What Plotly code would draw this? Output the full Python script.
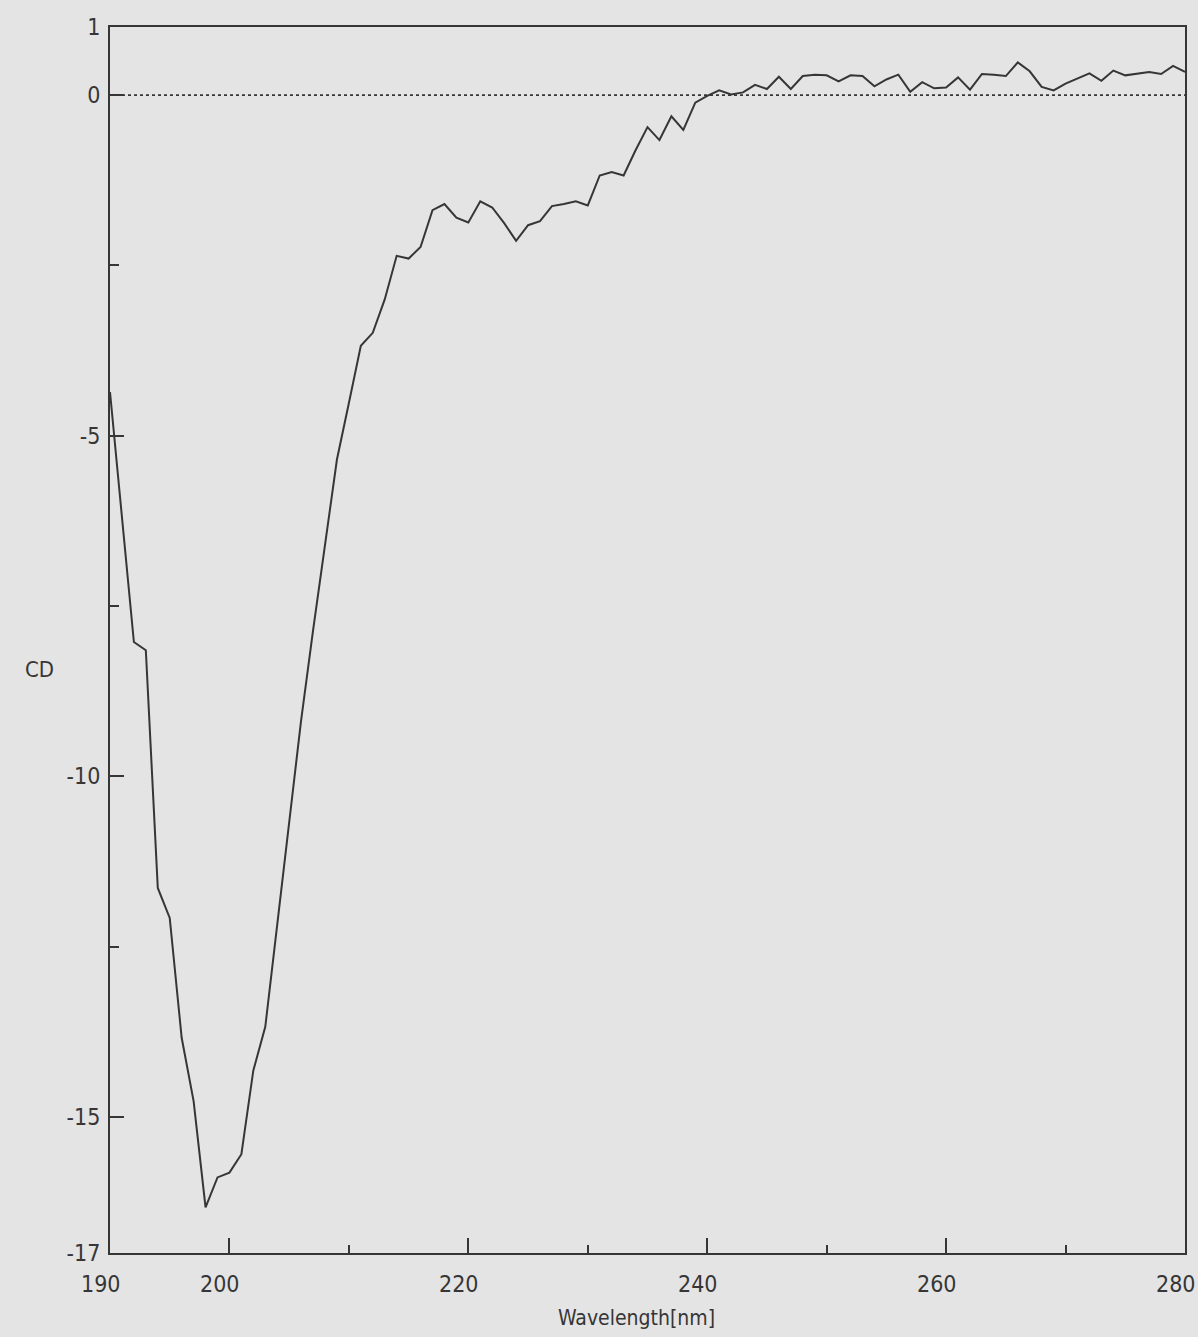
import plotly.graph_objects as go

wavelength = list(range(190, 281))
cd = [-4.36, -6.19, -8.03, -8.15, -11.64, -12.08, -13.84, -14.77, -16.33, -15.89,
      -15.82, -15.55, -14.32, -13.68, -12.18, -10.68, -9.18, -7.86, -6.59, -5.35,
      -4.52, -3.68, -3.49, -3.00, -2.36, -2.40, -2.23, -1.69, -1.60, -1.80,
      -1.87, -1.56, -1.65, -1.88, -2.14, -1.91, -1.85, -1.63, -1.60, -1.56,
      -1.62, -1.18, -1.13, -1.18, -0.81, -0.47, -0.66, -0.31, -0.51, -0.11,
      -0.01, 0.07, 0.01, 0.04, 0.15, 0.09, 0.27, 0.09, 0.28, 0.30,
      0.29, 0.20, 0.29, 0.28, 0.13, 0.23, 0.30, 0.05, 0.19, 0.10,
      0.11, 0.26, 0.08, 0.31, 0.30, 0.28, 0.48, 0.35, 0.12, 0.07,
      0.17, 0.24, 0.32, 0.21, 0.36, 0.29, 0.31, 0.34, 0.31, 0.43,
      0.34]

x_ticks = [190, 200, 220, 240, 260, 280]
x_minor = [210, 230, 250, 270]
y_ticks = [1, 0, -5, -10, -15, -17]
y_minor = [-2.5, -7.5, -12.5]
zero_x = [190, 280]
zero_y = [0, 0]

INK = "#363636"
BG = "#e4e4e4"
FONT = "Liberation Sans Narrow, DejaVu Sans Condensed, Roboto Condensed, Liberation Sans, sans-serif"

fig = go.Figure()
fig.add_trace(go.Scatter(x=zero_x, y=zero_y, mode="lines",
                         line=dict(color=INK, width=1.6, dash="dot"),
                         hoverinfo="skip", showlegend=False))
fig.add_trace(go.Scatter(x=wavelength, y=cd, mode="lines",
                         line=dict(color=INK, width=2),
                         showlegend=False))

fig.update_layout(
    width=1198, height=1337,
    margin=dict(l=110, r=11, t=27, b=84),
    paper_bgcolor=BG, plot_bgcolor=BG,
    font=dict(family=FONT, color=INK, size=23),
    showlegend=False,
)
fig.update_xaxes(
    range=[190, 280], showgrid=False, zeroline=False,
    showline=True, mirror=True, linecolor=INK, linewidth=2,
    tickmode="array", tickvals=x_ticks, showticklabels=False,
    ticks="inside", ticklen=15, tickwidth=2, tickcolor=INK,
    minor=dict(tickmode="array", tickvals=x_minor, ticks="inside",
               ticklen=8, tickwidth=2, tickcolor=INK),
)
fig.update_yaxes(
    range=[-17, 1], showgrid=False, zeroline=False,
    showline=True, mirror=True, linecolor=INK, linewidth=2,
    tickmode="array", tickvals=y_ticks, ticktext=[str(v) for v in y_ticks],
    ticks="inside", ticklen=14, tickwidth=2, tickcolor=INK,
    ticklabelstandoff=3,
    minor=dict(tickmode="array", tickvals=y_minor, ticks="inside",
               ticklen=9, tickwidth=2, tickcolor=INK),
)
for v in x_ticks:
    fig.add_annotation(text=str(v), x=v, xref="x", y=0, yref="paper",
                       xanchor="center", yanchor="middle", xshift=-9, yshift=-31,
                       showarrow=False, font=dict(size=23, color=INK, family=FONT))
fig.add_annotation(text="Wavelength[nm]", xref="paper", yref="paper",
                   x=0.49, y=-0.053, xanchor="center", yanchor="middle",
                   showarrow=False, font=dict(size=21, color=INK, family=FONT))
fig.add_annotation(text="CD", xref="paper", yref="paper",
                   x=-0.05, y=0.476, xanchor="right", yanchor="middle",
                   showarrow=False, font=dict(size=22, color=INK, family=FONT))

fig.write_html("out.html")
